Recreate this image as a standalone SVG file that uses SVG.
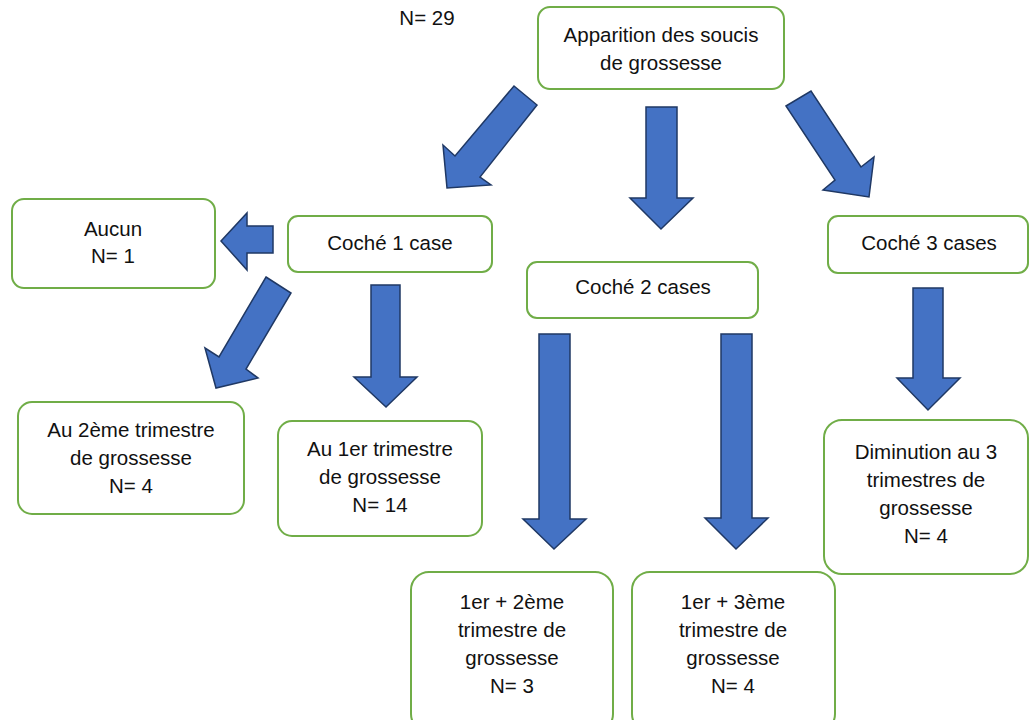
<svg xmlns="http://www.w3.org/2000/svg" width="1029" height="720" viewBox="0 0 1029 720">
<style>
.box{fill:#fff;stroke:#70AD47;stroke-width:2}
.arr{fill:#4472C4;stroke:#1F3864;stroke-width:1.5;stroke-linejoin:miter}
text{font-family:"Liberation Sans",Arial,sans-serif;font-size:20.5px;fill:#111;text-anchor:middle}
</style>
<rect width="1029" height="720" fill="#fff"/>
<text x="427" y="25">N= 29</text>
<g id="connectors">
<polygon class="arr" points="514,86 537,105 480,177 491,185 447,188 443,145 455,156"/>
<polygon class="arr" points="646,107 677,107 677,198 693,198 661,229 630,198 646,198"/>
<polygon class="arr" points="786,106 811,91 861,167 874,157 869,197 823,190 835,180"/>
<polygon class="arr" points="221,241 247,213 247,226 273,226 273,253 247,253 247,270"/>
<polygon class="arr" points="266,277 291,293 246,369 258,378 216,388 205,348 219,357"/>
<polygon class="arr" points="371,285 400,285 400,377 417,377 386,407 354,377 371,377"/>
<polygon class="arr" points="539,334 570,334 570,519 586,519 554,549 523,519 539,519"/>
<polygon class="arr" points="721,334 752,334 752,518 768,518 736,549 705,518 721,518"/>
<polygon class="arr" points="913,288 943,288 943,378 960,378 928,410 897,378 913,378"/>
</g>
<g id="n-top">
<rect class="box" x="538" y="7" width="246" height="82" rx="12"/>
<text x="661" y="42">Apparition des soucis</text>
<text x="661" y="70">de grossesse</text>
</g>
<g id="n-aucun">
<rect class="box" x="12" y="199" width="203" height="89" rx="12"/>
<text x="113" y="236">Aucun</text>
<text x="113" y="263">N= 1</text>
</g>
<g id="n-c1">
<rect class="box" x="288" y="216" width="204" height="56" rx="10"/>
<text x="390" y="250">Coché 1 case</text>
</g>
<g id="n-c2">
<rect class="box" x="527" y="262" width="231" height="56" rx="10"/>
<text x="643" y="294">Coché 2 cases</text>
</g>
<g id="n-c3">
<rect class="box" x="828" y="216" width="200" height="57" rx="10"/>
<text x="929" y="250">Coché 3 cases</text>
</g>
<g id="n-t2">
<rect class="box" x="18" y="402" width="226" height="112" rx="14"/>
<text x="131" y="437">Au 2ème trimestre</text>
<text x="131" y="465">de grossesse</text>
<text x="131" y="493">N= 4</text>
</g>
<g id="n-t1">
<rect class="box" x="278" y="421" width="204" height="115" rx="14"/>
<text x="380" y="456">Au 1er trimestre</text>
<text x="380" y="484">de grossesse</text>
<text x="380" y="512">N= 14</text>
</g>
<g id="n-t12">
<rect class="box" x="411" y="572" width="202" height="160" rx="18"/>
<text x="512" y="609">1er + 2ème</text>
<text x="512" y="637">trimestre de</text>
<text x="512" y="665">grossesse</text>
<text x="512" y="693">N= 3</text>
</g>
<g id="n-t13">
<rect class="box" x="632" y="572" width="203" height="160" rx="18"/>
<text x="733" y="609">1er + 3ème</text>
<text x="733" y="637">trimestre de</text>
<text x="733" y="665">grossesse</text>
<text x="733" y="693">N= 4</text>
</g>
<g id="n-dim">
<rect class="box" x="824" y="420" width="204" height="154" rx="18"/>
<text x="926" y="459">Diminution au 3</text>
<text x="926" y="487">trimestres de</text>
<text x="926" y="515">grossesse</text>
<text x="926" y="543">N= 4</text>
</g>
</svg>
